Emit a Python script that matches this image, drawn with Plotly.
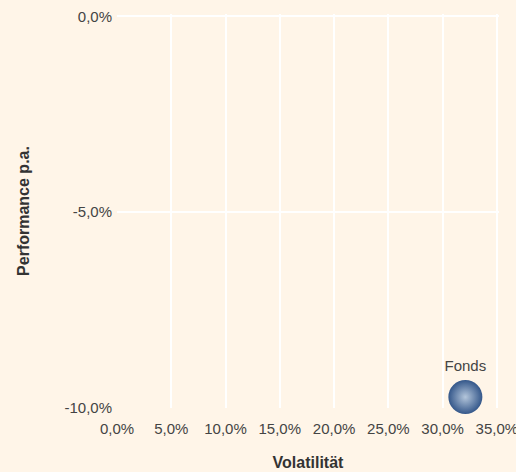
import plotly.graph_objects as go

# Data
names = ["Fonds"]
volatility = [32.1]      # % p.a.
performance = [-9.72]    # % p.a.

x_ticks = [0, 5, 10, 15, 20, 25, 30, 35]
x_labels = ["0,0%", "5,0%", "10,0%", "15,0%", "20,0%", "25,0%", "30,0%", "35,0%"]
y_ticks = [0, -5, -10]
y_labels = ["0,0%", "-5,0%", "-10,0%"]

bg = "#FFF5E8"
font_family = "Liberation Sans, Arial, sans-serif"

fig = go.Figure()
fig.add_trace(go.Scatter(
    x=volatility, y=performance, text=names,
    mode="markers+text", textposition="top center",
    textfont=dict(family=font_family, size=15, color="#444444"),
    marker=dict(size=34, color="#34578A",
                gradient=dict(type="radial", color="#B4C6DB"),
                line=dict(width=0)),
    hoverinfo="skip", showlegend=False, cliponaxis=False,
))

fig.update_layout(
    width=516, height=472,
    paper_bgcolor=bg, plot_bgcolor=bg,
    margin=dict(l=117, r=17, t=14, b=64, autoexpand=False),
    font=dict(family=font_family, size=15, color="#444444"),
    xaxis=dict(
        range=[0, 35.2], tickvals=x_ticks, ticktext=x_labels,
        showgrid=True, gridcolor="white", gridwidth=2,
        zeroline=False, showline=False, ticks="", automargin=False,
        ticklabeloverflow="allow", ticklabelstandoff=10,
        title=dict(text="<b>Volatilität</b>", font=dict(size=16, color="#333333"), standoff=20),
        tickfont=dict(size=15, color="#444444"),
        fixedrange=True,
    ),
    yaxis=dict(
        range=[-10, 0.06], tickvals=y_ticks, ticktext=y_labels,
        showgrid=True, gridcolor="white", gridwidth=2,
        zeroline=False, showline=False, ticks="", automargin=False,
        ticklabeloverflow="allow", ticklabelstandoff=4,
        title=dict(text="<b>Performance p.a.</b>", font=dict(size=16, color="#333333"), standoff=30),
        tickfont=dict(size=15, color="#444444"),
        fixedrange=True,
    ),
)

fig.write_html(
    "out.html",
    config={"displayModeBar": False},
    post_script="document.body.style.margin='0';document.body.style.background='#FFF5E8';",
)
